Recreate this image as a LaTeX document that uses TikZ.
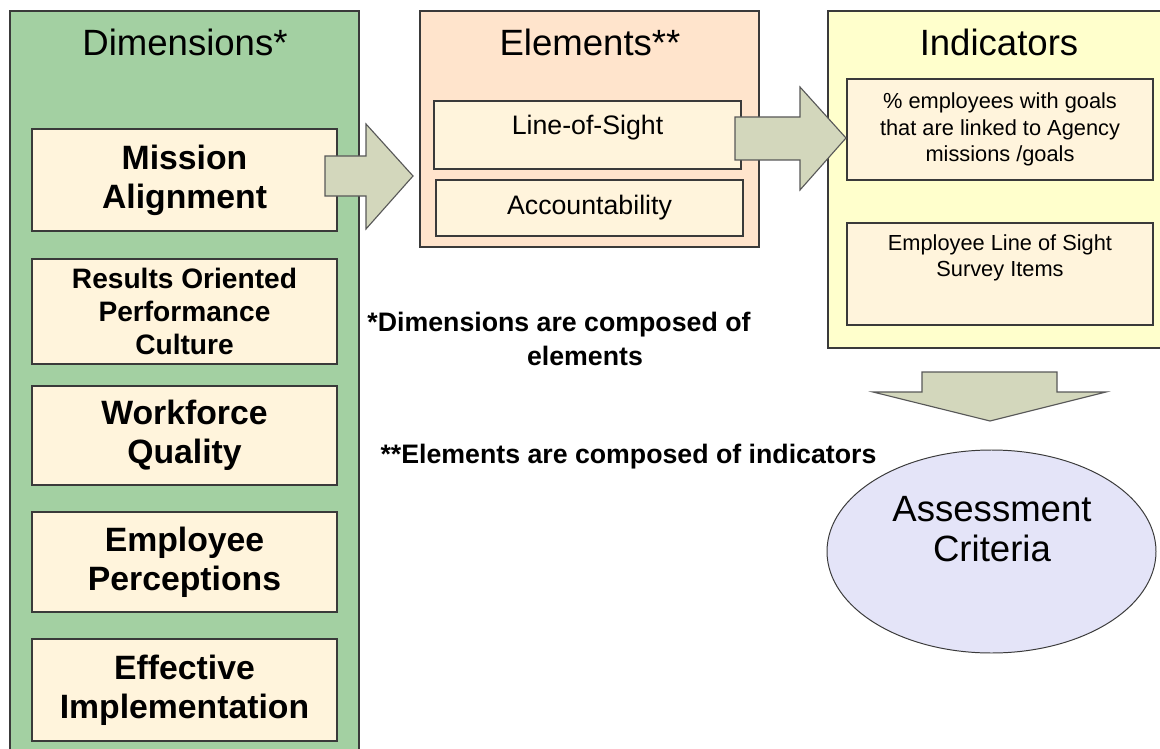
\documentclass[tikz,border=0pt]{standalone}
\usepackage{fontspec}
\setmainfont{Liberation Sans}
\usepackage{xcolor}
\usetikzlibrary{calc,shapes.geometric}
\definecolor{dimgreen}{HTML}{A3D0A2}
\definecolor{elempeach}{HTML}{FFE4CC}
\definecolor{indyellow}{HTML}{FFFFCC}
\definecolor{itemcream}{HTML}{FFF4DC}
\definecolor{arrowgray}{HTML}{D3D7BC}
\definecolor{critlilac}{HTML}{E4E4F8}
\definecolor{edgegray}{HTML}{3A3A3A}
\tikzset{
  panel/.style={draw=edgegray, line width=0.9pt, inner sep=0pt},
  itembox/.style={draw=edgegray, line width=0.9pt, fill=itemcream, align=center, inner sep=0pt},
  blockarrow/.style={draw=edgegray!85, line width=0.8pt, fill=arrowgray, line join=miter},
  title/.style={font=\fontsize{26}{30}\selectfont},
  dimbig/.style={font=\bfseries\fontsize{24}{27.7}\selectfont},
  dimsmall/.style={font=\bfseries\fontsize{20}{23.4}\selectfont},
  elemtext/.style={font=\fontsize{19}{22}\selectfont},
  indtext/.style={align=center, font=\fontsize{15.5}{18.6}\selectfont},
  notetext/.style={font=\bfseries\fontsize{19}{22}\selectfont}
}

\begin{document}
\begin{tikzpicture}[x=0.025cm, y=-0.025cm]
    %Values
    \def\u{0.025cm}
    \useasboundingbox (0,0) rectangle (1160,749);
    \clip (0,0) rectangle (1160,749);

    % Panels
    \node[panel, fill=dimgreen, minimum width={349*\u}, minimum height={760*\u}] (dims) at (184.5,391) {};
    \node[panel, fill=elempeach, minimum width={339*\u}, minimum height={236*\u}] (elems) at (589.5,129) {};
    \node[panel, fill=indyellow, minimum width={352*\u}, minimum height={337*\u}] (inds) at (1004,179.5) {};

    \node[title] (dimstitle) at (185,42) {Dimensions*};
    \node[title] (elemstitle) at (590,42) {Elements**};
    \node[title] (indstitle) at (999,42) {Indicators};

    % Dimensions
    \node[itembox, dimbig, minimum width={305*\u}, minimum height={102*\u}] (mission) at (184.5,180) {Mission\\Alignment};
    \node[itembox, dimsmall, minimum width={305*\u}, minimum height={105*\u}] (results) at (184.5,311.5) {Results Oriented\\Performance\\Culture};
    \node[itembox, dimbig, minimum width={305*\u}, minimum height={99*\u}] (workforce) at (184.5,435.5) {Workforce\\Quality};
    \node[itembox, dimbig, minimum width={305*\u}, minimum height={100*\u}] (perceptions) at (184.5,562) {Employee\\Perceptions};
    \node[itembox, dimbig, minimum width={305*\u}, minimum height={102*\u}] (implement) at (184.5,690) {Effective\\Implementation};

    % Elements
    \node[itembox, minimum width={307*\u}, minimum height={68*\u}] (sight) at (587.5,135) {};
    \node[elemtext] (sighttxt) at (587.5,128) {Line-of-Sight};
    \node[itembox, elemtext, minimum width={307*\u}, minimum height={56*\u}] (account) at (589.5,208) {Accountability};

    % Indicators
    \node[itembox, indtext, minimum width={306*\u}, minimum height={101*\u}] (goals) at (1000,129.5) {\% employees with goals\\that are linked to Agency\\missions /goals};
    \node[itembox, minimum width={306*\u}, minimum height={102*\u}] (survey) at (1000,274) {};
    \node[indtext] (surveytxt) at (1000,258) {Employee Line of Sight\\Survey Items};

    % Notes
    \node[notetext] (notea) at (559,325) {*Dimensions are composed of};
    \node[notetext] (noteb) at (585,356) {elements};
    \node[notetext] (notec) at (628.5,457) {**Elements are composed of indicators};

    % Block arrows
    \draw[blockarrow] (325,156) -- (366,156) -- (366,124) -- (413,176) -- (366,229) -- (366,196) -- (325,196) -- cycle;
    \draw[blockarrow] (735,117) -- (800,117) -- (800,87) -- (846,138) -- (800,190) -- (800,160) -- (735,160) -- cycle;
    \draw[blockarrow] (922,372) -- (1057,372) -- (1057,392) -- (1106,392) -- (990,421) -- (873,392) -- (922,392) -- cycle;

    % Criteria
    \node[ellipse, draw=edgegray, line width=0.7pt, fill=critlilac, inner sep=0pt, minimum width={329*\u}, minimum height={203*\u}] (criteria) at (991.5,551.5) {};
    \node[title, align=center, font=\fontsize{26}{28.4}\selectfont] (criteriatxt) at (992,529) {Assessment\\Criteria};
\end{tikzpicture}
\end{document}
